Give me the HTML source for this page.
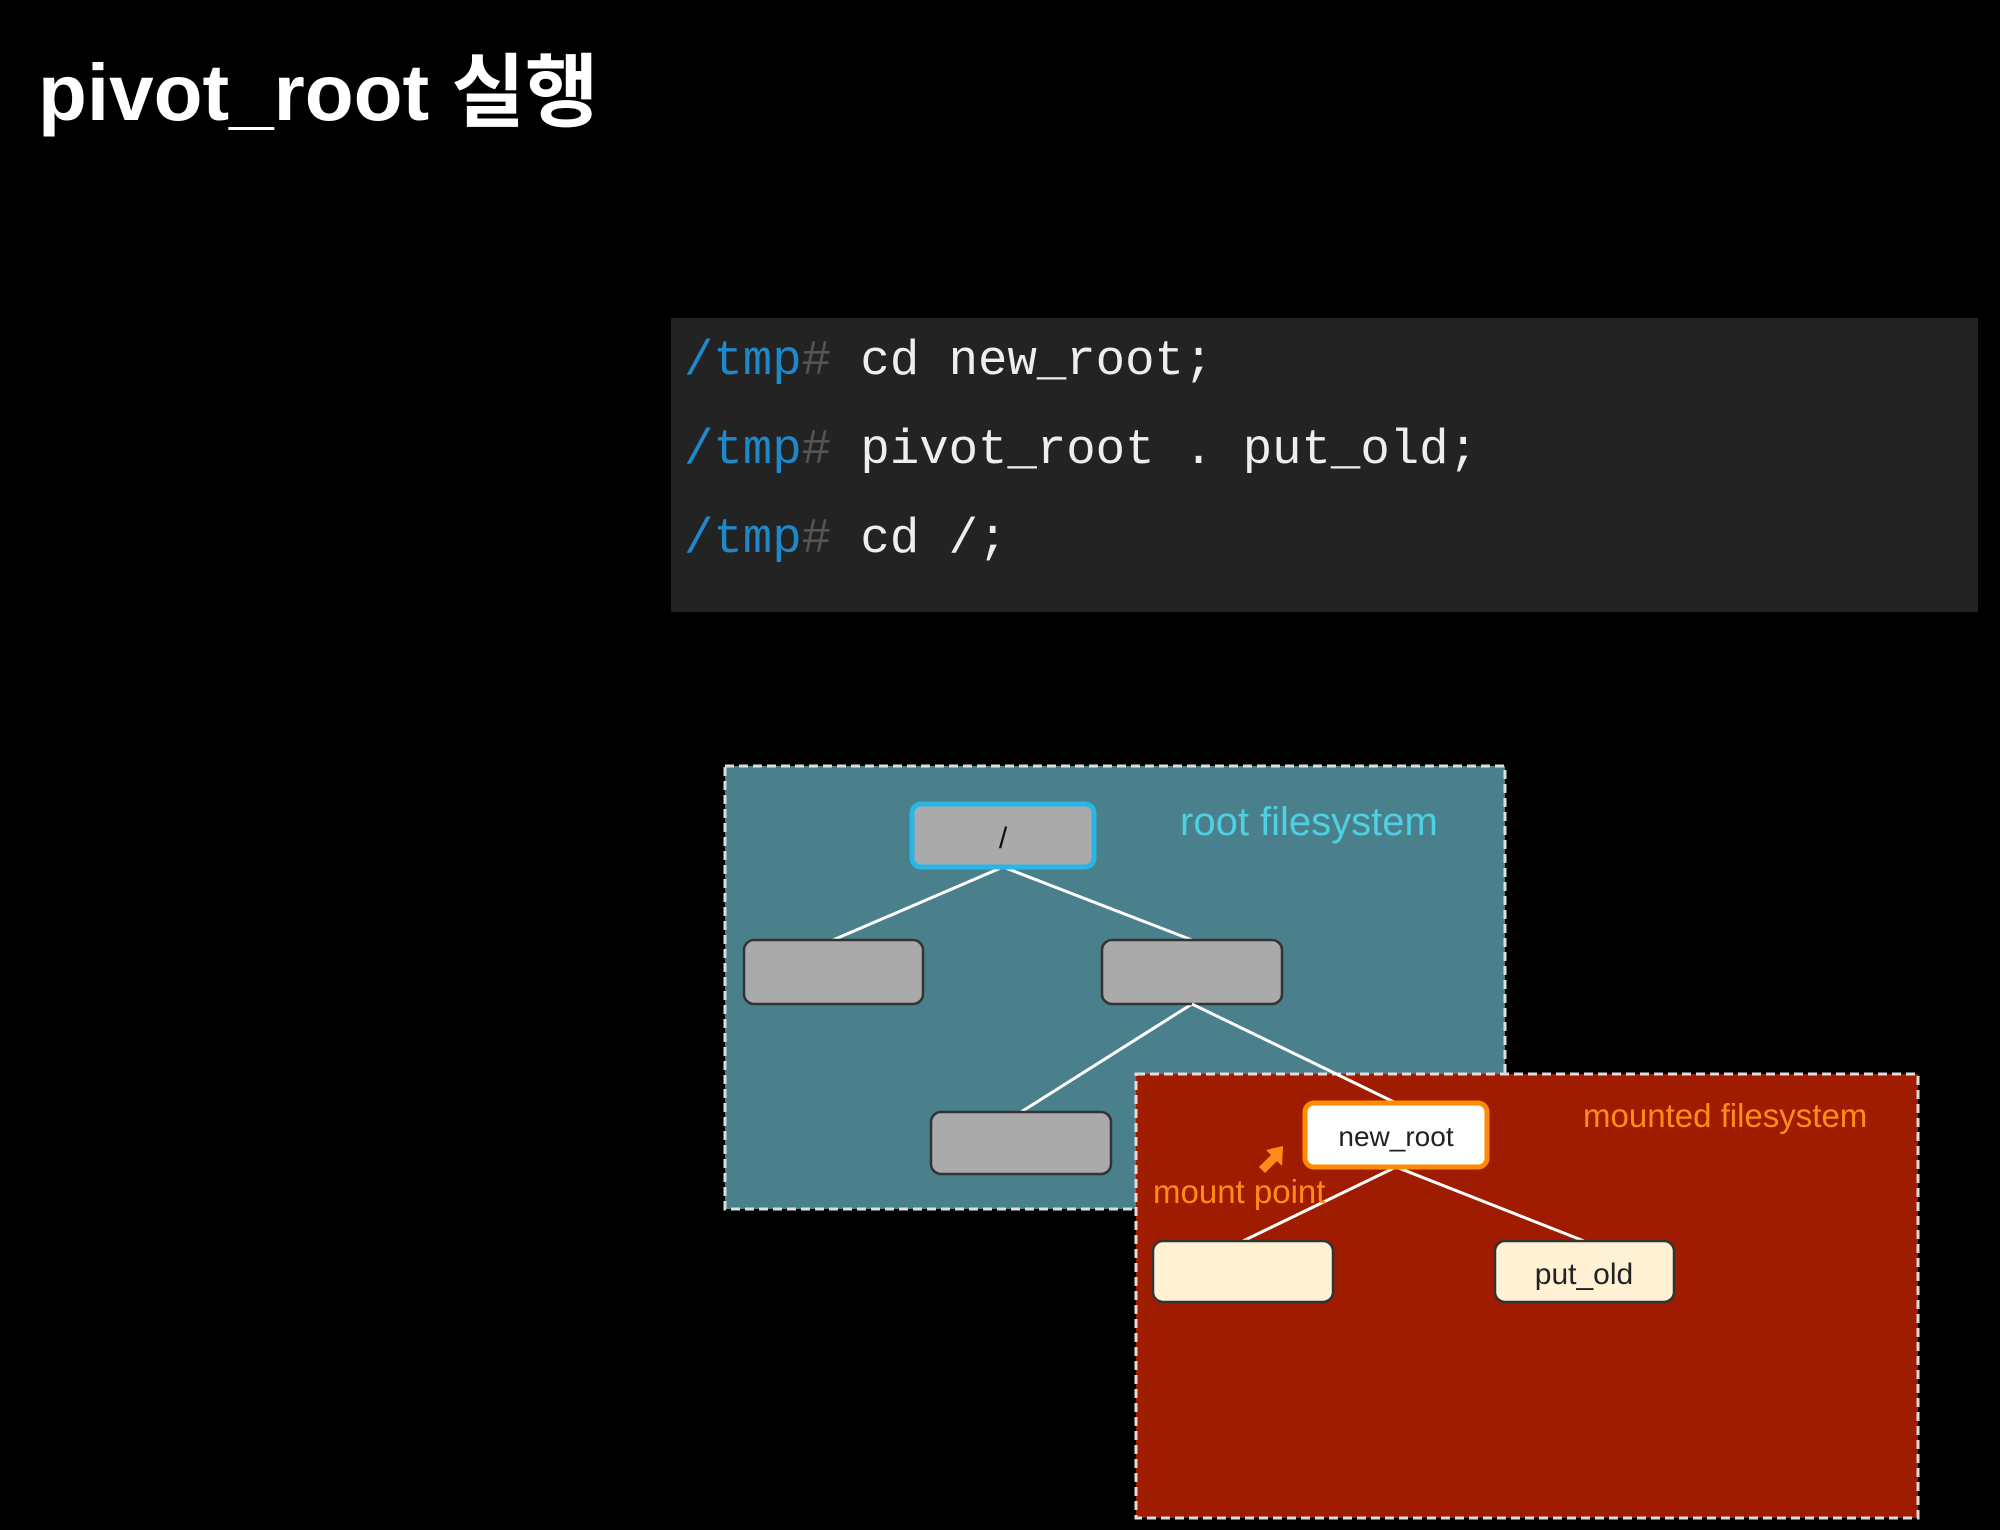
<!DOCTYPE html>
<html><head><meta charset="utf-8"><style>
html,body{margin:0;padding:0;background:#000;}
body{width:2000px;height:1530px;position:relative;overflow:hidden;}
</style></head><body>
<svg width="2000" height="1530" xmlns="http://www.w3.org/2000/svg" style="position:absolute;left:0;top:0">
<rect width="2000" height="1530" fill="#000"/>
<text x="38" y="120" font-family="Liberation Sans, Noto Sans CJK KR, sans-serif" font-size="80" font-weight="bold" fill="#fff">pivot_root 실행</text>
<rect x="671" y="318" width="1307" height="294" fill="#232323"/>
<g font-family="Liberation Mono, monospace" font-size="49">
<text x="684" y="374"><tspan fill="#1e88c8">/tmp</tspan><tspan fill="#555">#</tspan><tspan fill="#eee"> cd new_root;</tspan></text>
<text x="684" y="463"><tspan fill="#1e88c8">/tmp</tspan><tspan fill="#555">#</tspan><tspan fill="#eee"> pivot_root . put_old;</tspan></text>
<text x="684" y="552"><tspan fill="#1e88c8">/tmp</tspan><tspan fill="#555">#</tspan><tspan fill="#eee"> cd /;</tspan></text>
</g>
<rect x="725" y="766" width="780" height="443" fill="#4a7f8c" stroke="#ddd" stroke-width="3" stroke-dasharray="9,5"/>
<line x1="1003" y1="867" x2="833" y2="940" stroke="#fff" stroke-width="3"/>
<line x1="1003" y1="867" x2="1192" y2="940" stroke="#fff" stroke-width="3"/>
<line x1="1192" y1="1004" x2="1021" y2="1112" stroke="#fff" stroke-width="3"/>
<rect x="912" y="804" width="182" height="63" rx="9" fill="#aaa" stroke="#29b6e6" stroke-width="5"/>
<text x="1003" y="848" font-family="Liberation Sans, sans-serif" font-size="30" fill="#111" text-anchor="middle">/</text>
<rect x="744" y="940" width="179" height="64" rx="10" fill="#aaa" stroke="#333" stroke-width="2.5"/>
<rect x="1102" y="940" width="180" height="64" rx="10" fill="#aaa" stroke="#333" stroke-width="2.5"/>
<rect x="931" y="1112" width="180" height="62" rx="10" fill="#aaa" stroke="#333" stroke-width="2.5"/>
<text x="1180" y="835" font-family="Liberation Sans, sans-serif" font-size="40" fill="#4dd0e1">root filesystem</text>
<rect x="1136" y="1074" width="782" height="444" fill="#a01c00" stroke="#ddd" stroke-width="3" stroke-dasharray="9,5"/>
<line x1="1192" y1="1004" x2="1396" y2="1103" stroke="#fff" stroke-width="3"/>
<line x1="1396" y1="1167" x2="1243" y2="1241" stroke="#fff" stroke-width="3"/>
<line x1="1396" y1="1167" x2="1584" y2="1241" stroke="#fff" stroke-width="3"/>
<rect x="1305" y="1103" width="182" height="64" rx="9" fill="#fff" stroke="#ff8c00" stroke-width="5"/>
<text x="1396" y="1146" font-family="Liberation Sans, sans-serif" font-size="28" fill="#222" text-anchor="middle">new_root</text>
<rect x="1153" y="1241" width="180" height="61" rx="10" fill="#fff2d4" stroke="#333" stroke-width="2.5"/>
<rect x="1495" y="1241" width="179" height="61" rx="10" fill="#fff2d4" stroke="#333" stroke-width="2.5"/>
<text x="1584" y="1284" font-family="Liberation Sans, sans-serif" font-size="30" fill="#222" text-anchor="middle">put_old</text>
<text x="1583" y="1127" font-family="Liberation Sans, sans-serif" font-size="33" fill="#ff8c1a">mounted filesystem</text>
<text x="1153" y="1203" font-family="Liberation Sans, sans-serif" font-size="33" fill="#ff8c1a">mount point</text>
<polygon points="1283,1146 1266,1150 1271,1155 1259,1167 1265,1173 1277,1161 1282,1166" fill="#ff8c1a"/>
</svg>
</body></html>
